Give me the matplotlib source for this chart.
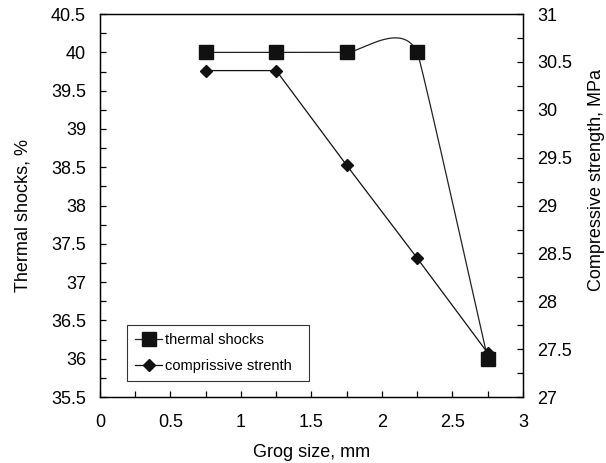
import numpy as np
import matplotlib
matplotlib.use("Agg")
import matplotlib.pyplot as plt
from matplotlib.ticker import MultipleLocator, FuncFormatter

plt.rcParams['font.family'] = ['Liberation Sans', 'DejaVu Sans']

grog_size = [0.75, 1.25, 1.75, 2.25, 2.75]
thermal_shocks = [40.0, 40.0, 40.0, 40.0, 36.0]
compressive = [30.41, 30.41, 29.42, 28.45, 27.46]


def smooth(xs, ys, s_in, s_out, n=80):
    P = np.column_stack([np.asarray(xs, float), np.asarray(ys, float)])
    out = [P[0]]
    for i in range(len(P) - 1):
        p0 = P[i - 1] if i > 0 else P[i]
        p1 = P[i]
        p2 = P[i + 1]
        p3 = P[i + 2] if i + 2 < len(P) else P[i + 1]
        c1 = p1 + s_out[i] * (p2 - p0)
        c2 = p2 - s_in[i + 1] * (p3 - p1)
        t = np.linspace(0, 1, n)[1:, None]
        seg = ((1 - t) ** 3) * p1 + 3 * ((1 - t) ** 2) * t * c1 + 3 * (1 - t) * t ** 2 * c2 + t ** 3 * p2
        out.extend(seg)
    out = np.array(out)
    return out[:, 0], out[:, 1]


FS = 13
fig = plt.figure(figsize=(6.06, 4.63), dpi=100)
ax1 = fig.add_axes([0.165, 0.1425, 0.698, 0.827])
ax2 = ax1.twinx()

sx, sy = smooth(grog_size, thermal_shocks,
                s_in=[0.1, 0.1, 0.1, 0.107, 0.1], s_out=[0.1, 0.1, 0.1, 0.03, 0.1])
ax1.plot(sx, sy, color='#222222', lw=0.9, zorder=2)
ax1.plot(grog_size, thermal_shocks, ls='none', marker='s', ms=9.8, color='#111111', zorder=3)
ax2.plot(grog_size, compressive, color='#111111', lw=0.9, marker='D', ms=6.6, mfc='#111111', mec='#111111')

ax1.set_xlim(0, 3)
ax1.set_ylim(35.5, 40.5)
ax2.set_ylim(27, 31)

fmt = FuncFormatter(lambda v, p: ('%g' % v))
ax1.xaxis.set_major_locator(MultipleLocator(0.5))
ax1.xaxis.set_minor_locator(MultipleLocator(0.25))
ax1.yaxis.set_major_locator(MultipleLocator(0.5))
ax1.yaxis.set_minor_locator(MultipleLocator(0.25))
ax2.yaxis.set_major_locator(MultipleLocator(0.5))
ax2.yaxis.set_minor_locator(MultipleLocator(0.25))
ax1.xaxis.set_major_formatter(fmt)
ax1.yaxis.set_major_formatter(fmt)
ax2.yaxis.set_major_formatter(fmt)

ax1.tick_params(axis='both', which='both', direction='in', labelsize=FS, width=0.9, colors='black', length=4)
ax1.tick_params(axis='y', which='major', pad=10)
ax1.tick_params(axis='x', which='major', pad=12)
ax1.tick_params(axis='y', which='both', right=False)
ax1.tick_params(axis='x', which='both', top=False)
ax2.tick_params(axis='y', which='both', direction='in', labelsize=FS, width=0.9, length=4, pad=10)
for a in (ax1, ax2):
    for sp in a.spines.values():
        sp.set_linewidth(0.9)

ax1.set_xlabel('Grog size, mm', fontsize=FS)
ax1.set_ylabel('Thermal shocks, %', fontsize=FS)
ax2.set_ylabel('Compressive strength, MPa', fontsize=FS)
ax1.xaxis.set_label_coords(0.5, -0.123)
ax1.yaxis.set_label_coords(-0.161, 0.473)
ax2.yaxis.set_label_coords(1.153, 0.567)

h1 = plt.Line2D([], [], color='#222222', lw=0.9, marker='s', ms=10.5, mfc='#111111', mec='#111111')
h2 = plt.Line2D([], [], color='#111111', lw=0.9, marker='D', ms=6.6, mfc='#111111', mec='#111111')
leg = ax2.legend([h1, h2], ['thermal shocks', 'comprissive strenth'],
                 loc='lower left', bbox_to_anchor=(0.063, 0.041, 0.43, 0.149), mode='expand',
                 fontsize=10.5, frameon=True, fancybox=False, edgecolor='black',
                 handlelength=1.9, handletextpad=0.2, borderpad=0.55, labelspacing=0.85,
                 borderaxespad=0)
leg.get_frame().set_linewidth(0.8)

fig.savefig('out.png', dpi=100)
